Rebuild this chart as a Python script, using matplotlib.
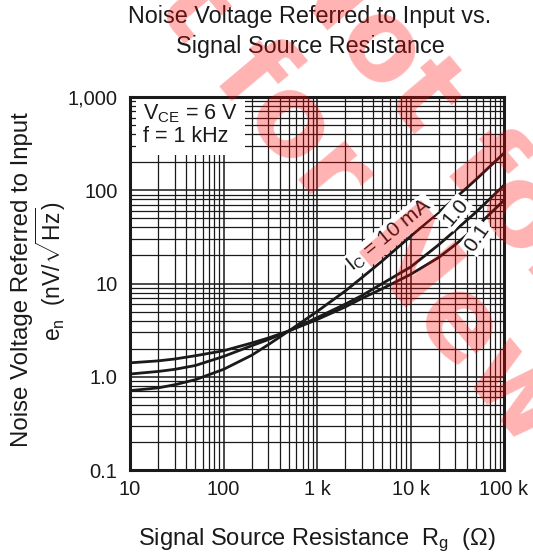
import numpy as np
import matplotlib
matplotlib.use("Agg")
import matplotlib.pyplot as plt
from matplotlib.ticker import FixedLocator, FixedFormatter, LogLocator, NullFormatter

plt.rcParams['font.family'] = ['Liberation Sans', 'DejaVu Sans']
plt.rcParams['mathtext.fontset'] = 'custom'
plt.rcParams['mathtext.rm'] = 'Liberation Sans'
plt.rcParams['mathtext.it'] = 'Liberation Sans:italic'

# source resistance (ohm) and noise voltage (nV/rtHz)
rg = [10, 20, 30, 50, 100, 200, 300, 500, 1e3, 2e3, 3e3, 5e3, 1e4, 2e4, 3e4, 5e4, 1e5]
en_10ma = [0.71, 0.76, 0.82, 0.93, 1.2, 1.7, 2.2, 3.1, 5.0, 8.3, 11.5, 17.5, 32, 58, 82, 130, 250]
en_1ma = [1.07, 1.14, 1.2, 1.32, 1.65, 2.15, 2.5, 3.1, 4.3, 6.0, 7.4, 10, 15, 26, 37, 58, 113]
en_01ma = [1.41, 1.48, 1.55, 1.68, 1.9, 2.3, 2.6, 3.1, 4.1, 5.6, 6.9, 8.8, 12.5, 19, 26, 40, 78]

xticks = [10, 100, 1e3, 1e4, 1e5]
xtick_labels = ['10', '100', '1 k', '10 k', '100 k']
yticks = [0.1, 1, 10, 100, 1000]
ytick_labels = ['0.1', '1.0', '10', '100', '1,000']

fig = plt.figure(figsize=(5.33, 5.58), dpi=100)
ax = fig.add_axes([130/533, 1-470/558, 374/533, 373/558])

ax.set_xscale('log')
ax.set_yscale('log')
ax.set_xlim(10, 1e5)
ax.set_ylim(0.1, 1000)

for y in (en_10ma, en_1ma, en_01ma):
    ax.plot(rg, y, color='#1a1a1a', lw=2.0, zorder=3)

ax.xaxis.set_major_locator(FixedLocator(xticks))
ax.xaxis.set_major_formatter(FixedFormatter(xtick_labels))
ax.yaxis.set_major_locator(FixedLocator(yticks))
ax.yaxis.set_major_formatter(FixedFormatter(ytick_labels))
ax.xaxis.set_minor_locator(LogLocator(base=10, subs=np.arange(2, 10)))
ax.yaxis.set_minor_locator(LogLocator(base=10, subs=np.arange(2, 10)))
ax.xaxis.set_minor_formatter(NullFormatter())
ax.yaxis.set_minor_formatter(NullFormatter())

ax.grid(which='major', color='#1a1a1a', lw=1.1)
ax.grid(which='minor', color='#1a1a1a', lw=0.9)
ax.set_axisbelow(True)
ax.tick_params(which='both', direction='in', length=0, labelsize=14.5, colors='#1a1a1a')
ax.tick_params(axis='x', pad=7)
ax.tick_params(axis='y', pad=9)
for s in ax.spines.values():
    s.set_linewidth(2.2)
    s.set_color('#1a1a1a')
    s.set_zorder(5)

ax.text(0.035, 0.985, '$\\mathregular{V_{CE}}$ = 6 V\nf = 1 kHz', transform=ax.transAxes,
        ha='left', va='top', fontsize=15.5, linespacing=1.05, color='#1a1a1a', zorder=4,
        bbox=dict(facecolor='white', edgecolor='none', boxstyle='square,pad=0.35'))

lab = dict(ha='center', va='center', fontsize=15, color='#1a1a1a', zorder=4, rotation_mode='anchor',
           bbox=dict(facecolor='white', edgecolor='none', boxstyle='square,pad=0.08'))
ax.text(6000, 33, '$\\mathregular{I_C}$ = 10 mA', rotation=39, **lab)
ax.text(30000, 58, '1.0', rotation=50, **lab)
ax.text(52000, 31, '0.1', rotation=55, **lab)

fig.text(310/533, 1-17/558, 'Noise Voltage Referred to Input vs.', ha='center', va='center',
         fontsize=16.8, color='#1a1a1a')
fig.text(310/533, 1-46/558, 'Signal Source Resistance', ha='center', va='center',
         fontsize=16.8, color='#1a1a1a')
fig.text(317/533, 1-540/558, 'Signal Source Resistance  $\\mathregular{R_g}$  (\u03a9)', ha='center',
         va='center', fontsize=17, color='#1a1a1a')
fig.text(22/533, 1-280/558, 'Noise Voltage Referred to Input', rotation=90, ha='center', va='center',
         fontsize=17.3, color='#1a1a1a')
fig.text(51/533, 1-271/558, '$\\mathregular{e_n}$  (nV/$\\sqrt{\\mathregular{Hz}}$)', rotation=90,
         ha='center', va='center', fontsize=16.5, color='#1a1a1a')

# watermark
for cx, cy in [(458, 325), (688, 415)]:
    fig.text(cx/533, 1-cy/558, 'Not for New Design', rotation=-50, rotation_mode='anchor',
             ha='center', va='center', fontsize=80, fontweight='bold', family='DejaVu Sans',
             color='red', alpha=0.3, zorder=10)

fig.savefig('out.png', dpi=100)
